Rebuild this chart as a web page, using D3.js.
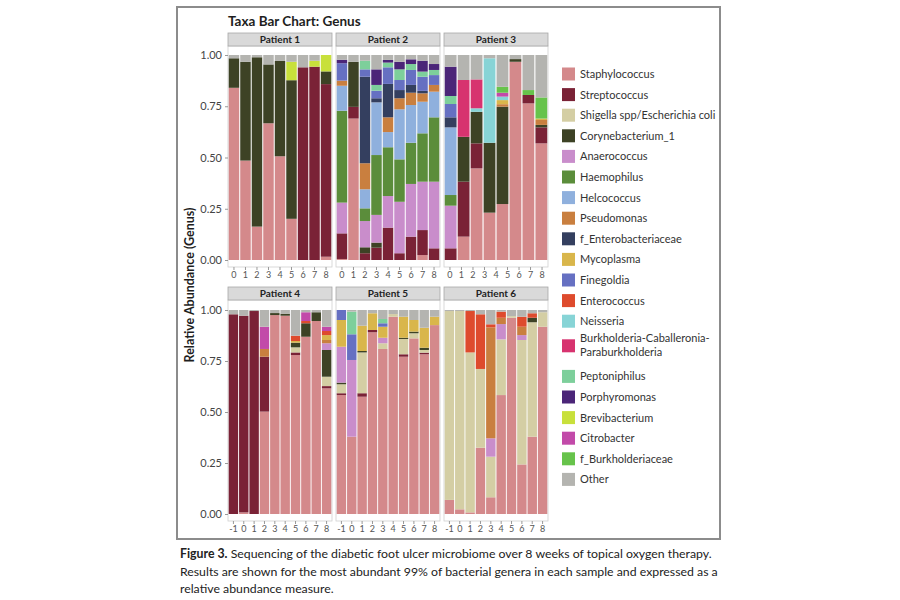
<!DOCTYPE html>
<html><head><meta charset="utf-8">
<script src="https://cdn.jsdelivr.net/npm/d3@7/dist/d3.min.js"></script>
<style>body{margin:0;background:#fff;} text{font-family:Lato,"Open Sans",sans-serif;}</style>
</head><body><svg id="c" width="900" height="600"></svg>
<script>
const taxa = ["Staphylococcus","Streptococcus","Shigella spp/Escherichia coli","Corynebacterium_1","Anaerococcus","Haemophilus","Helcococcus","Pseudomonas","f_Enterobacteriaceae","Mycoplasma","Finegoldia","Enterococcus","Neisseria","Burkholderia-Caballeronia-Paraburkholderia","Peptoniphilus","Porphyromonas","Brevibacterium","Citrobacter","f_Burkholderiaceae","Other"];
const taxaCodes = ["Sta","Str","Shi","Cor","Ana","Hae","Hel","Pse","Ent","Myc","Fin","Enc","Nei","Bur","Pep","Por","Bre","Cit","fBu","Oth"];
const taxaColors = ["#d4898b","#7a2236","#d4cea4","#3d4225","#c98dcb","#5b8d3b","#8fb0dd","#c97f3f","#343f5f","#d9b64b","#6670c2","#de4b2d","#87d4d6","#d7336f","#7dcf9b","#4b2578","#c8e03b","#c24aa9","#67c34b","#b4b4b0"];
const patientNames = ["Patient 1","Patient 2","Patient 3","Patient 4","Patient 5","Patient 6"];
const weeksA = ["0","1","2","3","4","5","6","7","8"];
const weeksB = ["-1","0","1","2","3","4","5","6","7","8"];
const patient3Bars = ["a","b","c","d","e","f","g","h"]; // 8 bars drawn in the Patient 3 panel
const yTicks = [0, 0.25, 0.5, 0.75, 1];

// Each sample: stacked segments, as [taxon, cumulative upper edge]
const patient1 = [
 [["Sta",.84],["Cor",.984],["Oth",1]],
 [["Sta",.485],["Cor",.967],["Oth",1]],
 [["Sta",.163],["Cor",.989],["Oth",1]],
 [["Sta",.667],["Cor",.954],["Oth",1]],
 [["Sta",.506],["Cor",.971],["Oth",1]],
 [["Sta",.201],["Cor",.877],["Bre",.967],["Oth",1]],
 [["Str",.94],["Oth",1]],
 [["Str",.943],["Bre",.972],["Oth",1]],
 [["Sta",.016],["Str",.858],["Cor",.92],["Bre",1]]
];
const patient2 = [
 [["Sta",.005],["Str",.13],["Ana",.28],["Hae",.728],["Hel",.85],["Pse",.875],["Fin",.96],["Por",.977],["Oth",1]],
 [["Sta",.69],["Str",.747],["Cor",.967],["Oth",1]],
 [["Str",.033],["Cor",.062],["Ana",.19],["Hae",.252],["Hel",.345],["Pse",.472],["Ent",.894],["Fin",.93],["Pep",.972],["Oth",1]],
 [["Str",.06],["Cor",.085],["Ana",.22],["Hae",.512],["Hel",.769],["Ent",.789],["Fin",.826],["Pep",.854],["Por",.93],["Oth",1]],
 [["Str",.158],["Ana",.312],["Hae",.55],["Hel",.624],["Pse",.696],["Ent",.859],["Fin",.94],["Pep",.963],["Por",.976],["Oth",1]],
 [["Str",.033],["Ana",.284],["Hae",.491],["Hel",.735],["Pse",.789],["Ent",.829],["Fin",.878],["Pep",.93],["Por",.967],["Oth",1]],
 [["Str",.114],["Ana",.371],["Hae",.572],["Hel",.756],["Pse",.816],["Ent",.854],["Fin",.927],["Pep",.956],["Por",.979],["Oth",1]],
 [["Sta",.024],["Str",.146],["Ana",.382],["Hae",.618],["Hel",.772],["Pse",.813],["Ent",.825],["Fin",.894],["Pep",.919],["Por",.972],["Oth",1]],
 [["Str",.057],["Ana",.382],["Hae",.696],["Hel",.821],["Pse",.854],["Fin",.902],["Pep",.927],["Por",.956],["Oth",1]]
];
const patient3 = [
 [["Str",.057],["Ana",.265],["Hae",.317],["Hel",.647],["Ent",.696],["Fin",.761],["Pep",.8],["Por",.943],["Oth",1]],
 [["Sta",.114],["Str",.382],["Cor",.601],["Bur",.878],["Oth",1]],
 [["Sta",.447],["Str",.569],["Cor",.723],["Nei",.74],["Bur",.881],["Oth",1]],
 [["Sta",.231],["Cor",.572],["Nei",.984],["Oth",1]],
 [["Sta",.273],["Cor",.748],["Pse",.76],["Myc",.78],["Nei",.797],["Cit",.816],["fBu",.845],["Oth",1]],
 [["Sta",.967],["Cor",.98],["Oth",1]],
 [["Sta",.764],["Str",.805],["fBu",.829],["Oth",1]],
 [["Sta",.569],["Str",.647],["Cor",.659],["Pse",.683],["Myc",.69],["fBu",.793],["Oth",1]]
];
const patient4 = [
 [["Str",.979],["Oth",1]],
 [["Sta",.008],["Str",.972],["Oth",1]],
 [["Str",.995],["Oth",1]],
 [["Sta",.502],["Str",.771],["Pse",.809],["Cit",.918],["Oth",1]],
 [["Sta",.975],["Cor",.985],["Oth",1]],
 [["Sta",.972],["Cor",.982],["Oth",1]],
 [["Sta",.779],["Str",.792],["Shi",.817],["Cor",.84],["Myc",.848],["Enc",.874],["Oth",1]],
 [["Sta",.869],["Cor",.935],["Enc",.946],["Cit",.989],["Oth",1]],
 [["Sta",.946],["Cor",.989],["Oth",1]],
 [["Sta",.616],["Str",.627],["Shi",.673],["Cor",.804],["Ana",.837],["Pse",.853],["Myc",.877],["Enc",.897],["Cit",.918],["Oth",1]]
];
const patient5 = [
 [["Sta",.583],["Str",.592],["Shi",.636],["Cor",.644],["Ana",.82],["Myc",.951],["Fin",1]],
 [["Sta",.379],["Ana",.755],["Fin",.881],["Pep",.992],["Oth",1]],
 [["Sta",.575],["Str",.592],["Shi",.792],["Cor",.799],["Myc",.923],["Oth",1]],
 [["Sta",.891],["Str",.902],["Myc",.984],["Oth",1]],
 [["Sta",.809],["Shi",.837],["Ana",.864],["Myc",.918],["Fin",.935],["Pep",.956],["Oth",1]],
 [["Sta",.967],["Shi",.98],["Oth",1]],
 [["Sta",.771],["Str",.783],["Shi",.858],["Cor",.864],["Myc",.967],["Oth",1]],
 [["Sta",.861],["Shi",.886],["Cor",.894],["Myc",.951],["Oth",1]],
 [["Sta",.783],["Str",.791],["Shi",.804],["Cor",.815],["Myc",.913],["Oth",1]],
 [["Sta",.926],["Myc",.967],["Oth",1]]
];
const patient6 = [
 [["Sta",.069],["Shi",.995],["Oth",1]],
 [["Sta",.023],["Shi",.995],["Oth",1]],
 [["Sta",.008],["Shi",.792],["Enc",.995],["Oth",1]],
 [["Sta",.325],["Shi",.711],["Enc",.979],["Oth",1]],
 [["Sta",.082],["Shi",.281],["Ana",.371],["Pse",.915],["Enc",.93],["Oth",1]],
 [["Sta",.583],["Shi",.856],["Ana",.931],["Pse",.962],["Enc",.992],["Oth",1]],
 [["Sta",.962],["Shi",.97],["Oth",1]],
 [["Sta",.243],["Shi",.853],["Ana",.877],["Pse",.918],["Enc",.967],["Oth",1]],
 [["Sta",.379],["Shi",.94],["Cor",.962],["Enc",.984],["Oth",1]],
 [["Sta",.918],["Shi",.989],["Oth",1]]
];
const patientSamples = [patient1, patient2, patient3, patient4, patient5, patient6];
const patientBarKeys = [weeksA, weeksA, patient3Bars, weeksB, weeksB, weeksB];
const patientAxisLabels = [weeksA, weeksA, weeksA, weeksB, weeksB, weeksB];

const svg = d3.select("#c");
svg.append("rect").attr("width",900).attr("height",600).attr("fill","#fff");
svg.append("rect").attr("x",177).attr("y",7).attr("width",543).attr("height",532)
  .attr("fill","none").attr("stroke","#8c8c8c").attr("stroke-width",2);

svg.append("text").attr("x",228).attr("y",26).attr("font-size",13.5).attr("font-weight","bold")
  .attr("fill","#1e1e1e").text("Taxa Bar Chart: Genus");

const color = d3.scaleOrdinal().domain(taxaCodes).range(taxaColors);
const colX = [228, 336, 444], panelW = 104;
const rows = [{stripTop:33, y0:260, y1:55},{stripTop:287, y0:514, y1:310}];
const stack = d3.stack().keys(taxaCodes);

patientSamples.forEach((samples, pi) => {
  const r = rows[Math.floor(pi/3)], x0 = colX[pi%3];
  const keys = patientBarKeys[pi];
  const y = d3.scaleLinear().domain([0,1]).range([r.y0, r.y1]);
  const x = d3.scaleBand().domain(keys).range([x0+0.5, x0+panelW-0.5]).paddingInner(0.09).paddingOuter(0.02);
  const xAxisScale = d3.scaleBand().domain(patientAxisLabels[pi]).range([x0+0.5, x0+panelW-0.5]).paddingInner(0.09).paddingOuter(0.02);
  const g = svg.append("g");
  const stripBottom = r.stripTop + 13;
  const panelBottom = r.y0 + 7;
  g.append("rect").attr("x",x0).attr("y",stripBottom).attr("width",panelW).attr("height",panelBottom-stripBottom)
    .attr("fill","#fff").attr("stroke","#d0d0d0").attr("stroke-width",0.8);
  g.append("rect").attr("x",x0).attr("y",r.stripTop).attr("width",panelW).attr("height",13)
    .attr("fill","#d9d9d9").attr("stroke","#a8a8a8").attr("stroke-width",0.8);
  g.append("text").attr("x",x0+panelW/2).attr("y",r.stripTop+10).attr("text-anchor","middle")
    .attr("font-size",10).attr("font-weight","bold").attr("fill","#222").text(patientNames[pi]);
  const data = samples.map((segs, i) => {
    const row = {key: keys[i]};
    taxaCodes.forEach(k => row[k] = 0);
    let prev = 0;
    segs.forEach(([k, top]) => { row[k] += Math.max(0, top - prev); prev = top; });
    return row;
  });
  const series = stack(data);
  g.selectAll("g.s").data(series).join("g").attr("fill", d => color(d.key))
    .selectAll("rect").data(d => d.filter(p => p[1]-p[0] > 0)).join("rect")
    .attr("x", d => x(d.data.key)).attr("width", x.bandwidth())
    .attr("y", d => y(d[1])).attr("height", d => y(d[0]) - y(d[1]));
  const xa = g.append("g").attr("transform",`translate(0,${panelBottom})`)
    .call(d3.axisBottom(xAxisScale).tickSize(3).tickPadding(2));
  xa.select(".domain").remove();
  xa.selectAll("line").attr("stroke","#999");
  xa.selectAll("text").attr("font-size",9).attr("fill","#555");
  if (pi % 3 === 0) {
    const ya = g.append("g").attr("transform",`translate(${x0},0)`)
      .call(d3.axisLeft(y).tickValues(yTicks).tickFormat(d3.format(".2f")).tickSize(3).tickPadding(3));
    ya.select(".domain").remove();
    ya.selectAll("line").attr("stroke","#999");
    ya.selectAll("text").attr("font-size",11).attr("fill","#444");
  }
});

svg.append("text").attr("transform","translate(194,285) rotate(-90)").attr("text-anchor","middle")
  .attr("font-size",12.5).attr("font-weight","bold").attr("fill","#1e1e1e").text("Relative Abundance (Genus)");

const leg = svg.append("g");
let ly = 74;
taxa.forEach((t, i) => {
  const parts = t === "Burkholderia-Caballeronia-Paraburkholderia" ? ["Burkholderia-Caballeronia-","Paraburkholderia"] : [t];
  const extra = (parts.length - 1) * 14;
  const cy = ly + extra/2 - (parts.length>1 ? 3 : 0);
  leg.append("rect").attr("x",562).attr("y",cy-6.5).attr("width",13).attr("height",13).attr("fill",taxaColors[i]);
  const tx = leg.append("text").attr("x",580).attr("y",ly+4 - (parts.length>1?4:0)).attr("font-size",11).attr("fill","#333");
  parts.forEach((p, j) => tx.append("tspan").attr("x",580).attr("dy", j ? 14 : 0).text(p));
  ly += 20.6 + extra;
});

const cap = [
  [["Figure 3.", true], [" Sequencing of the diabetic foot ulcer microbiome over 8 weeks of topical oxygen therapy.", false]],
  [["Results are shown for the most abundant 99% of bacterial genera in each sample and expressed as a", false]],
  [["relative abundance measure.", false]]
];
cap.forEach((line, i) => {
  const t = svg.append("text").attr("x",180).attr("y",558 + i*17.5).attr("font-size",12.3).attr("fill","#222");
  line.forEach(([s,b]) => t.append("tspan").attr("font-weight", b ? "bold" : "normal").text(s));
});
</script></body></html>
